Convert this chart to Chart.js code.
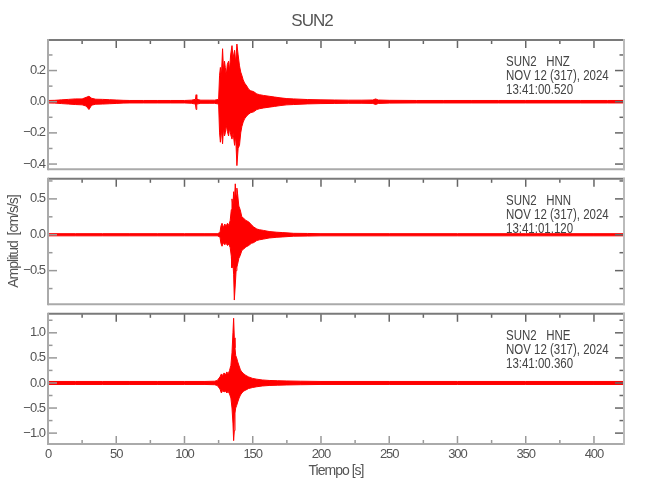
<!DOCTYPE html>
<html>
<head>
<meta charset="utf-8">
<script src="https://cdn.jsdelivr.net/npm/chart.js@4.4.1/dist/chart.umd.min.js"></script>
<style>
  body { margin: 0; background: #fff; }
  #wrap { position: relative; width: 650px; height: 500px; }
  canvas { position: absolute; left: 0; }
</style>
</head>
<body>
<div id="wrap">
  <canvas id="chartZ" width="650" height="180" style="top:0px"></canvas>
  <canvas id="chartN" width="650" height="147" style="top:168px"></canvas>
  <canvas id="chartE" width="650" height="197" style="top:303px"></canvas>
</div>
<script>
// ---- data (envelope of each trace) ----
const xTicks = [0, 50, 100, 150, 200, 250, 300, 350, 400];

// HNZ
const tZ = [0, 5, 10, 15, 20, 25, 28, 30, 32, 35, 40, 45, 50, 55, 60, 70, 80, 90, 100, 105,
  108, 108.5, 109, 112, 118, 122, 125, 125.7, 126.3, 127, 127.9, 128.6, 129.3, 129.9, 130.6, 131.4, 132.3, 133, 133.8, 134.8,
  135.6, 136.7, 137.5, 138.4, 139.3, 140.3, 141.2, 142, 143, 144, 145.7, 147, 148.5, 150.6, 153, 155, 158, 162, 166, 170,
  175, 180, 190, 200, 210, 220, 230, 238, 240, 242, 250, 270, 290, 310, 330, 350, 370, 390, 410, 422];
const upZ = [0.008, 0.009, 0.012, 0.015, 0.018, 0.018, 0.028, 0.035, 0.022, 0.016,
  0.015, 0.013, 0.011, 0.009, 0.008, 0.008, 0.008, 0.008, 0.008, 0.010,
  0.015, 0.045, 0.015, 0.010, 0.010, 0.010, 0.015, 0.17, 0.22, 0.16,
  0.34, 0.20, 0.26, 0.22, 0.17, 0.24, 0.26, 0.20, 0.30, 0.36,
  0.28, 0.33, 0.25, 0.37, 0.30, 0.23, 0.19, 0.17, 0.14, 0.12,
  0.10, 0.08, 0.07, 0.065, 0.05, 0.045, 0.04, 0.035, 0.03, 0.025,
  0.02, 0.018, 0.014, 0.012, 0.011, 0.010, 0.010, 0.011, 0.018, 0.011,
  0.009, 0.008, 0.008, 0.008, 0.008, 0.008, 0.008, 0.008, 0.008, 0.008];
const loZ = [-0.008, -0.009, -0.012, -0.015, -0.018, -0.020, -0.028, -0.050, -0.022, -0.016,
  -0.015, -0.013, -0.011, -0.009, -0.008, -0.008, -0.008, -0.008, -0.008, -0.010,
  -0.015, -0.050, -0.015, -0.010, -0.010, -0.010, -0.015, -0.20, -0.26, -0.18,
  -0.27, -0.17, -0.22, -0.20, -0.15, -0.19, -0.22, -0.17, -0.21, -0.24,
  -0.20, -0.28, -0.22, -0.41, -0.30, -0.28, -0.20, -0.16, -0.13, -0.11,
  -0.09, -0.08, -0.07, -0.065, -0.05, -0.045, -0.04, -0.035, -0.03, -0.025,
  -0.02, -0.018, -0.014, -0.012, -0.011, -0.010, -0.010, -0.011, -0.018, -0.011,
  -0.009, -0.008, -0.008, -0.008, -0.008, -0.008, -0.008, -0.008, -0.008, -0.008];
const yTicksZ = [-0.4, -0.2, 0, 0.2];

// HNN
const tN = [0, 20, 40, 60, 80, 100, 115, 124, 126, 126.7,
  127.5, 128.5, 129.5, 130.5, 131.5, 132.5, 133.5, 134.3, 134.8, 135.5,
  136, 136.5, 137.2, 137.8, 138.4, 138.9, 139.8, 140.8, 142, 143.3,
  145, 147, 149, 150.6, 153, 155, 158, 162, 167.7, 172,
  180, 190, 200, 250, 300, 350, 400, 422];
const upN = [0.015, 0.015, 0.015, 0.015, 0.015, 0.015, 0.015, 0.015, 0.03, 0.12,
  0.16, 0.10, 0.15, 0.12, 0.16, 0.13, 0.20, 0.35, 0.50, 0.40,
  0.60, 0.45, 0.71, 0.55, 0.65, 0.57, 0.40, 0.35, 0.25, 0.23,
  0.20, 0.18, 0.14, 0.11, 0.08, 0.07, 0.06, 0.045, 0.035, 0.03,
  0.02, 0.018, 0.015, 0.015, 0.015, 0.015, 0.015, 0.015];
const loN = [-0.015, -0.015, -0.015, -0.015, -0.015, -0.015, -0.015, -0.015, -0.03, -0.12,
  -0.16, -0.11, -0.14, -0.12, -0.15, -0.13, -0.18, -0.30, -0.46, -0.40,
  -0.55, -0.91, -0.70, -0.50, -0.45, -0.41, -0.33, -0.29, -0.22, -0.20,
  -0.17, -0.15, -0.12, -0.11, -0.08, -0.07, -0.06, -0.045, -0.035, -0.03,
  -0.02, -0.018, -0.015, -0.015, -0.015, -0.015, -0.015, -0.015];
const yTicksN = [-0.5, 0, 0.5];

// HNE
const tE = [0, 20, 40, 60, 80, 100, 115, 122, 124, 126,
  127, 128, 129, 130, 131, 132, 133, 134, 134.8, 135.5,
  136, 136.5, 137, 137.5, 138.2, 139, 140, 141, 142, 143.5,
  145, 147, 150, 153, 157, 162, 168, 175, 185, 200,
  250, 300, 350, 400, 422];
const upE = [0.03, 0.03, 0.03, 0.03, 0.03, 0.03, 0.03, 0.035, 0.05, 0.12,
  0.18, 0.15, 0.20, 0.16, 0.22, 0.18, 0.25, 0.35, 0.60, 1.00,
  1.29, 0.90, 0.70, 0.55, 0.50, 0.42, 0.34, 0.26, 0.22, 0.18,
  0.15, 0.12, 0.09, 0.075, 0.06, 0.05, 0.045, 0.04, 0.035, 0.03,
  0.03, 0.03, 0.03, 0.03, 0.03];
const loE = [-0.03, -0.03, -0.03, -0.03, -0.03, -0.03, -0.03, -0.035, -0.05, -0.12,
  -0.20, -0.15, -0.18, -0.16, -0.20, -0.17, -0.22, -0.30, -0.50, -0.80,
  -1.15, -0.95, -0.60, -0.50, -0.45, -0.38, -0.30, -0.24, -0.20, -0.16,
  -0.14, -0.11, -0.09, -0.075, -0.06, -0.05, -0.045, -0.04, -0.035, -0.03,
  -0.03, -0.03, -0.03, -0.03, -0.03];
const yTicksE = [-1, -0.5, 0, 0.5, 1];

const labelsZ = ['SUN2   HNZ', 'NOV 12 (317), 2024', '13:41:00.520'];
const labelsN = ['SUN2   HNN', 'NOV 12 (317), 2024', '13:41:01.120'];
const labelsE = ['SUN2   HNE', 'NOV 12 (317), 2024', '13:41:00.360'];

// ---- styling ----
const FONT = "'Liberation Sans', Arial, sans-serif";
const RED = '#ff0000';
const TXT = '#555';

Chart.defaults.font.family = FONT;
Chart.defaults.color = TXT;

const toPts = (t, v) => t.map((x, i) => ({ x: x, y: v[i] }));
const fmt = v => v.toFixed(1).replace('-', '\u2212');

// plot font is a narrow vector one, squeeze the letters a bit
const narrowPlugin = {
  id: 'narrow',
  beforeDraw(chart) { chart.ctx.letterSpacing = '-1px'; }
};

// frame + inward ticks on every side (IDL style)
const framePlugin = {
  id: 'panel',
  afterDatasetsDraw(chart, args, opts) {
    const { ctx, chartArea: a, scales: { x, y } } = chart;
    const seg = (x1, y1, x2, y2, col, w) => {
      ctx.beginPath();
      ctx.strokeStyle = col;
      ctx.lineWidth = w;
      ctx.moveTo(x1, y1);
      ctx.lineTo(x2, y2);
      ctx.stroke();
    };
    ctx.save();
    // x ticks
    for (let v = 0; v <= x.max; v += 25) {
      const px = x.getPixelForValue(v);
      const len = v % 50 === 0 ? 8 : 4;
      seg(px, a.top, px, a.top + len, '#666', 1.5);
      if (opts.bottomTicks) seg(px, a.bottom, px, a.bottom - len, '#999', 1.5);
    }
    // y ticks, left and right
    const step = opts.minor;
    for (let v = Math.ceil(y.min / step) * step; v <= y.max + 1e-9; v += step) {
      const py = y.getPixelForValue(v);
      const major = opts.major.some(m => Math.abs(m - v) < 1e-6);
      const len = major ? 9 : 4.5;
      seg(a.left, py, a.left + len, py, '#999', 1.5);
      seg(a.right, py, a.right - len, py, '#666', 1.5);
    }
    // frame
    seg(a.left, a.top, a.right + 1, a.top, '#7a7a7a', 2);
    seg(a.left, a.bottom, a.right + 1, a.bottom, '#aaa', 2);
    seg(a.left, a.top - 1, a.left, a.bottom + 1, '#aaa', 2);
    seg(a.right, a.top - 1, a.right, a.bottom + 1, '#bbb', 2);
    // station text
    ctx.letterSpacing = '0px';
    ctx.fillStyle = '#444';
    ctx.font = '14px ' + FONT;
    ctx.textAlign = 'left';
    ctx.textBaseline = 'alphabetic';
    ctx.scale(0.82, 1);
    opts.text.forEach((s, i) => ctx.fillText(s, 506 / 0.82, a.top + 26 + i * 14.2));
    ctx.restore();
  }
};

const makePanel = (id, cfg) => new Chart(document.getElementById(id), {
  type: 'line',
  data: {
    datasets: [
      { data: toPts(cfg.t, cfg.up), borderColor: RED, backgroundColor: RED, borderWidth: 1, pointRadius: 0, fill: '+1' },
      { data: toPts(cfg.t, cfg.lo), borderColor: RED, borderWidth: 1, pointRadius: 0, fill: false }
    ]
  },
  options: {
    responsive: false,
    animation: false,
    devicePixelRatio: 1,
    layout: { padding: { left: 0, right: 26, top: cfg.padTop, bottom: cfg.padBottom } },
    plugins: {
      legend: { display: false },
      tooltip: { enabled: false },
      title: cfg.title ? {
        display: true, text: cfg.title, color: TXT,
        font: { size: 17, weight: 'normal' }, padding: { top: 11, bottom: 8.6 }
      } : { display: false },
      panel: { text: cfg.text, major: cfg.yTicks, minor: cfg.minor, bottomTicks: !!cfg.showX }
    },
    scales: {
      x: {
        type: 'linear', min: 0, max: 422,
        display: !!cfg.showX,
        grid: { display: false, drawTicks: false },
        border: { display: false },
        ticks: { padding: 3, maxRotation: 0, autoSkip: false, color: TXT, font: { size: 13 } },
        afterBuildTicks: s => { s.ticks = xTicks.map(v => ({ value: v })); },
        afterFit: cfg.showX ? (s => { s.height = cfg.xHeight; }) : undefined,
        title: {
          display: !!cfg.showX, text: 'Tiempo [s]', color: TXT,
          font: { size: 14 }, padding: { top: 0, bottom: 20 }
        }
      },
      y: {
        min: cfg.min, max: cfg.max,
        grid: { display: false, drawTicks: false },
        border: { display: false },
        ticks: { padding: 3, color: TXT, font: { size: 13 }, callback: v => fmt(v) },
        afterBuildTicks: s => { s.ticks = cfg.yTicks.map(v => ({ value: v })); },
        afterFit: s => { s.width = 48; },
        title: {
          display: !!cfg.yTitle, text: 'Amplitud  [cm/s/s]', color: TXT,
          font: { size: 14 }, padding: { top: 6, bottom: 0 }
        }
      }
    }
  },
  plugins: [narrowPlugin, framePlugin]
});

makePanel('chartZ', { t: tZ, up: upZ, lo: loZ, min: -0.433, max: 0.396, yTicks: yTicksZ, minor: 0.1,
  text: labelsZ, title: 'SUN2', padTop: 0, padBottom: 6 });
makePanel('chartN', { t: tN, up: upN, lo: loN, min: -0.968, max: 0.78, yTicks: yTicksN, minor: 0.25,
  text: labelsN, yTitle: true, padTop: 6, padBottom: 6 });
makePanel('chartE', { t: tE, up: upE, lo: loE, min: -1.217, max: 1.379, yTicks: yTicksE, minor: 0.25,
  text: labelsE, showX: true, xHeight: 56, padTop: 6, padBottom: 0 });
</script>
</body>
</html>
